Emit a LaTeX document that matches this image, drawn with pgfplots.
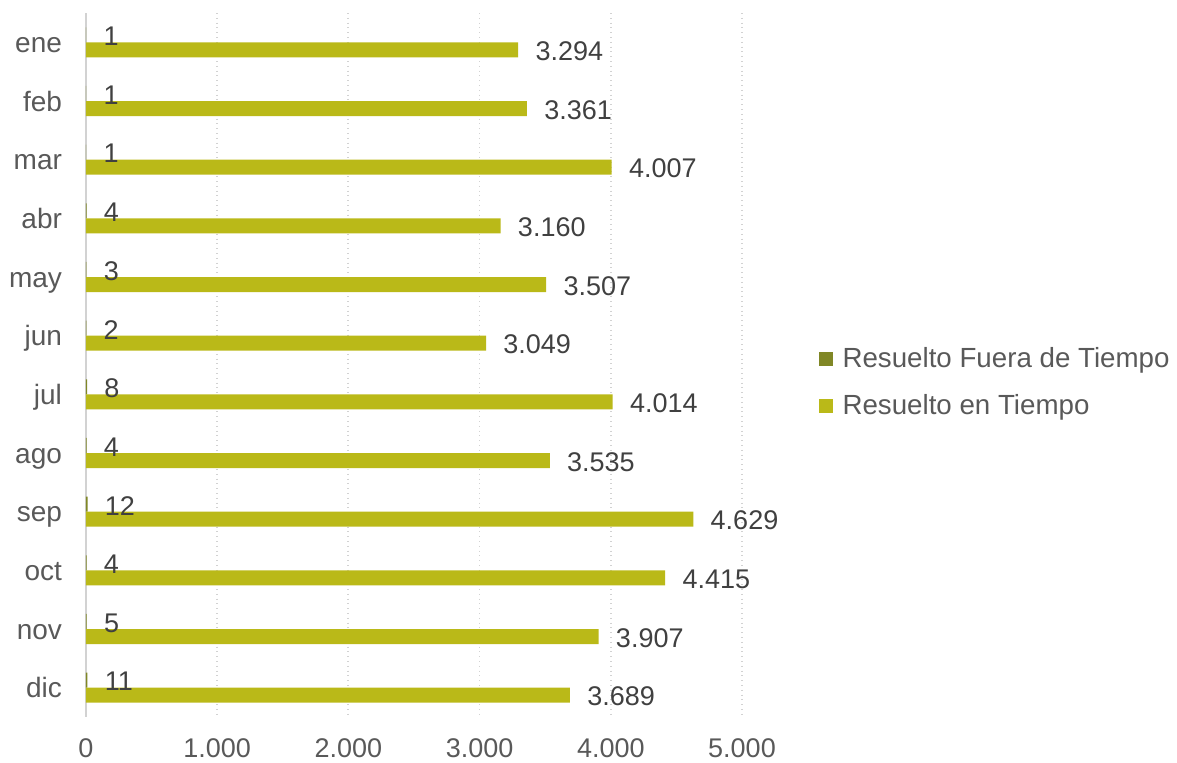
\documentclass[border=0pt]{standalone}
\usepackage{pgfplots}
\pgfplotsset{compat=1.18}
\usepackage{pgfplotstable}
\usepackage{fontspec}
\setmainfont{Liberation Sans}
\definecolor{fuera}{RGB}{128,135,38}
\definecolor{entiempo}{RGB}{186,185,24}
\definecolor{lbl}{RGB}{89,89,89}
\definecolor{dlbl}{RGB}{64,64,64}
\definecolor{gridc}{RGB}{210,210,210}

\pgfplotstableread{
m fuera tiempo
0 1 3294
1 1 3361
2 1 4007
3 4 3160
4 3 3507
5 2 3049
6 8 4014
7 4 3535
8 12 4629
9 4 4415
10 5 3907
11 11 3689
}\datatable

\begin{document}
\begin{tikzpicture}
\useasboundingbox (-43pt,-22.5pt) rectangle (545.5pt,358.5pt);
\begin{axis}[
  at={(0,0)}, anchor=south west,
  scale only axis, width=328pt, height=352pt,
  xbar, bar width=0.256,
  xmin=0, xmax=5000, ymin=-0.5, ymax=11.5, y dir=reverse,
  ytick={0,...,11},
  yticklabels={ene,feb,mar,abr,may,jun,jul,ago,sep,oct,nov,dic},
  xtick={0,1000,...,5000},
  scaled x ticks=false,
  /pgf/number format/1000 sep={.},
  /pgf/number format/assume math mode=true,
  axis line style={draw=none},
  major tick length=0pt,
  xmajorgrids,
  grid style={gridc, dotted, line width=0.9pt},
  extra x ticks={0},
  extra x tick labels={},
  extra x tick style={grid style={solid, gridc, line width=1pt}},
  tick label style={font=\fontsize{13.5}{16}\selectfont, text=lbl},
  yticklabel style={font=\fontsize{14}{16}\selectfont, anchor=base east, xshift=-8.5pt, yshift=-5pt},
  xticklabel style={yshift=-7.5pt},
  point meta=x,
  nodes near coords,
  nodes near coords align=horizontal,
  every node near coord/.append style={font=\fontsize{13.5}{16}\selectfont, text=dlbl, anchor=west, inner sep=0pt, xshift=8.5pt, yshift=-0.75pt},
  legend style={draw=none, fill=none, at={(1.107,0.475)}, anchor=west,
    font=\fontsize{13.85}{16}\selectfont, text=lbl, row sep=8pt,
    cells={anchor=west}},
  legend image code/.code={\fill[#1] (0pt,-3.5pt) rectangle (7pt,3.5pt); \path (10pt,0pt);},
]
\addplot[fill=fuera, draw=none, bar shift=-0.128] table[x=fuera, y=m]{\datatable};
\addlegendentry{Resuelto Fuera de Tiempo}
\addplot[fill=entiempo, draw=none, bar shift=0.128] table[x=tiempo, y=m]{\datatable};
\addlegendentry{Resuelto en Tiempo}
\end{axis}
\end{tikzpicture}
\end{document}
